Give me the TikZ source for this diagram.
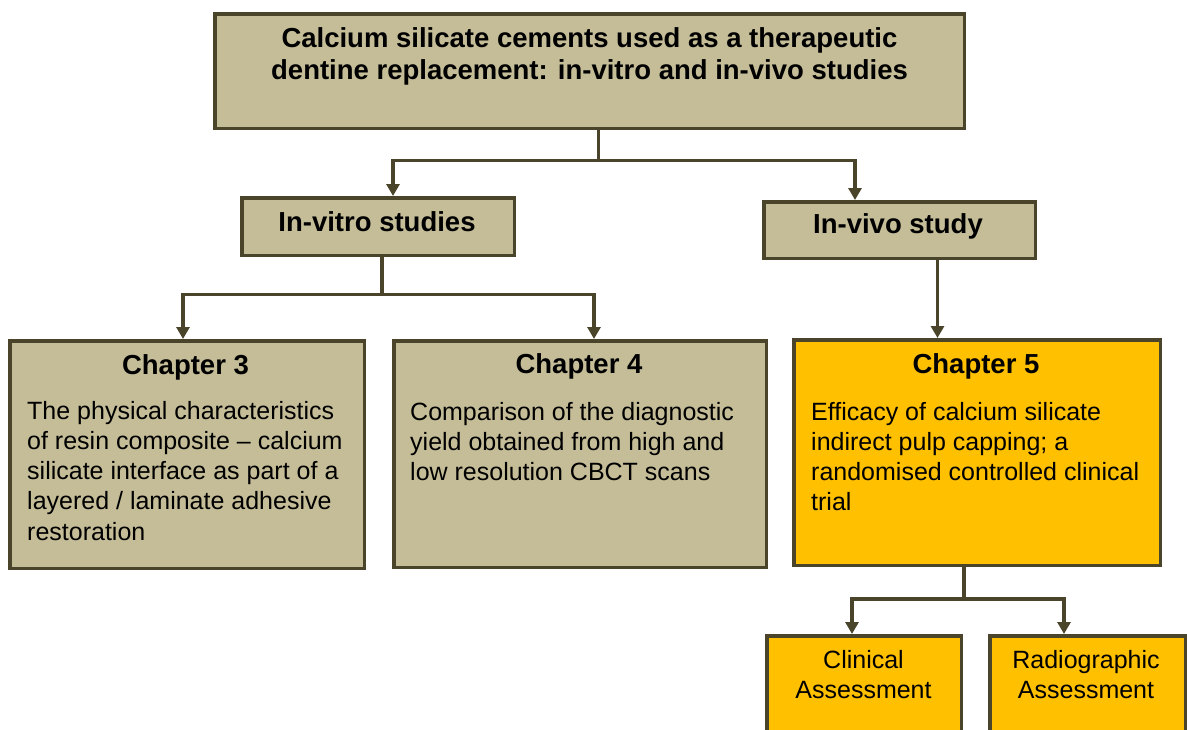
\documentclass[tikz,border=0pt]{standalone}
\usepackage{fontspec}
\setmainfont{Liberation Sans}
\usetikzlibrary{arrows.meta}
\definecolor{boxtan}{HTML}{C4BD97}
\definecolor{boxorange}{HTML}{FFC000}
\definecolor{edgeolive}{HTML}{4A452A}
\newcommand{\bodyfont}{\fontsize{25}{30.3}\selectfont}
\newcommand{\headfont}{\bfseries\fontsize{27.5}{32}\selectfont}
\begin{document}
\begin{tikzpicture}[x=1pt,y=-1pt,
  box/.style={draw=edgeolive, line width=3.5pt, fill=boxtan, inner sep=0pt},
  hot/.style={box, fill=boxorange},
  link/.style={draw=edgeolive, line width=3.5pt},
  arr/.style={link, -{Triangle[width=13pt 0,length=12pt 0]}},
  head/.style={inner sep=0pt, anchor=base, font=\headfont},
  body/.style={inner sep=0pt, anchor=base west},
  mid/.style={inner sep=0pt, anchor=base},
]
\useasboundingbox (0,0) rectangle (1187,729);
\clip (0,0) rectangle (1187,729);

% boxes
\node[box, minimum width=749.5pt, minimum height=114.5pt] (top)   at (589.5,71)   {};
\node[box, minimum width=272.5pt, minimum height=57.5pt]  (vitro) at (378,226.5)  {};
\node[box, minimum width=271.5pt, minimum height=56.5pt]  (vivo)  at (899.5,230)  {};
\node[box, minimum width=354.5pt, minimum height=227.5pt] (ch3)   at (187,454.5)  {};
\node[box, minimum width=372.5pt, minimum height=226.5pt] (ch4)   at (580,454)    {};
\node[hot, minimum width=366.5pt, minimum height=225.5pt] (ch5)   at (977,452.5)  {};
\node[hot, minimum width=194.5pt, minimum height=132.5pt] (clin)  at (864,702)    {};
\node[hot, minimum width=195.5pt, minimum height=132.5pt] (radio) at (1087.5,702) {};

% texts
\node[head] (ttop) at (589.5,47) {\parbox[t]{740pt}{\centering\headfont
  Calcium silicate cements used as a therapeutic\\
  dentine replacement: in-vitro and in-vivo studies}};
\node[head] (tvitro) at (377,231) {In-vitro studies};
\node[head] (tvivo)  at (898,233) {In-vivo study};
\node[head] (tch3) at (185.5,374) {Chapter 3};
\node[head] (tch4) at (579,373) {Chapter 4};
\node[head] (tch5) at (976,373) {Chapter 5};
\node[body] (bch3) at (27,419) {\parbox[t]{340pt}{\raggedright\bodyfont
  The physical characteristics\\
  of resin composite -- calcium\\
  silicate interface as part of a\\
  layered / laminate adhesive\\
  restoration}};
\node[body] (bch4) at (410,420) {\parbox[t]{350pt}{\raggedright\bodyfont
  Comparison of the diagnostic\\
  yield obtained from high and\\
  low resolution CBCT scans}};
\node[body] (bch5) at (811,420) {\parbox[t]{345pt}{\raggedright\bodyfont
  Efficacy of calcium silicate\\
  indirect pulp capping; a\\
  randomised controlled clinical\\
  trial}};
\node[mid] (tclin) at (863.5,668) {\parbox[t]{190pt}{\centering\bodyfont
  Clinical\\Assessment}};
\node[mid] (tradio) at (1086,668) {\parbox[t]{195pt}{\centering\bodyfont
  Radiographic\\Assessment}};

% junction points of the connectors
\coordinate (j1)  at (598.5,160.3);
\coordinate (j1l) at (393,160.3);
\coordinate (j1r) at (855,160.3);
\coordinate (j2)  at (382,294.5);
\coordinate (j2l) at (183,294.5);
\coordinate (j2r) at (594,294.5);
\coordinate (j3)  at (937.5,0);
\coordinate (j4)  at (964,599);
\coordinate (j4l) at (852,599);
\coordinate (j4r) at (1064,599);

% connectors
\draw[arr] (top.south -| j1) -- (j1) -- (j1l) -- (vitro.north -| j1l);
\draw[arr] (j1) -- (j1r) -- (vivo.north -| j1r);
\draw[arr] (vitro.south -| j2) -- (j2) -- (j2l) -- (ch3.north -| j2l);
\draw[arr] (j2) -- (j2r) -- (ch4.north -| j2r);
\draw[arr] (vivo.south -| j3) -- (ch5.north -| j3);
\draw[arr] (ch5.south -| j4) -- (j4) -- (j4l) -- (clin.north -| j4l);
\draw[arr] (j4) -- (j4r) -- (radio.north -| j4r);
\end{tikzpicture}
\end{document}
